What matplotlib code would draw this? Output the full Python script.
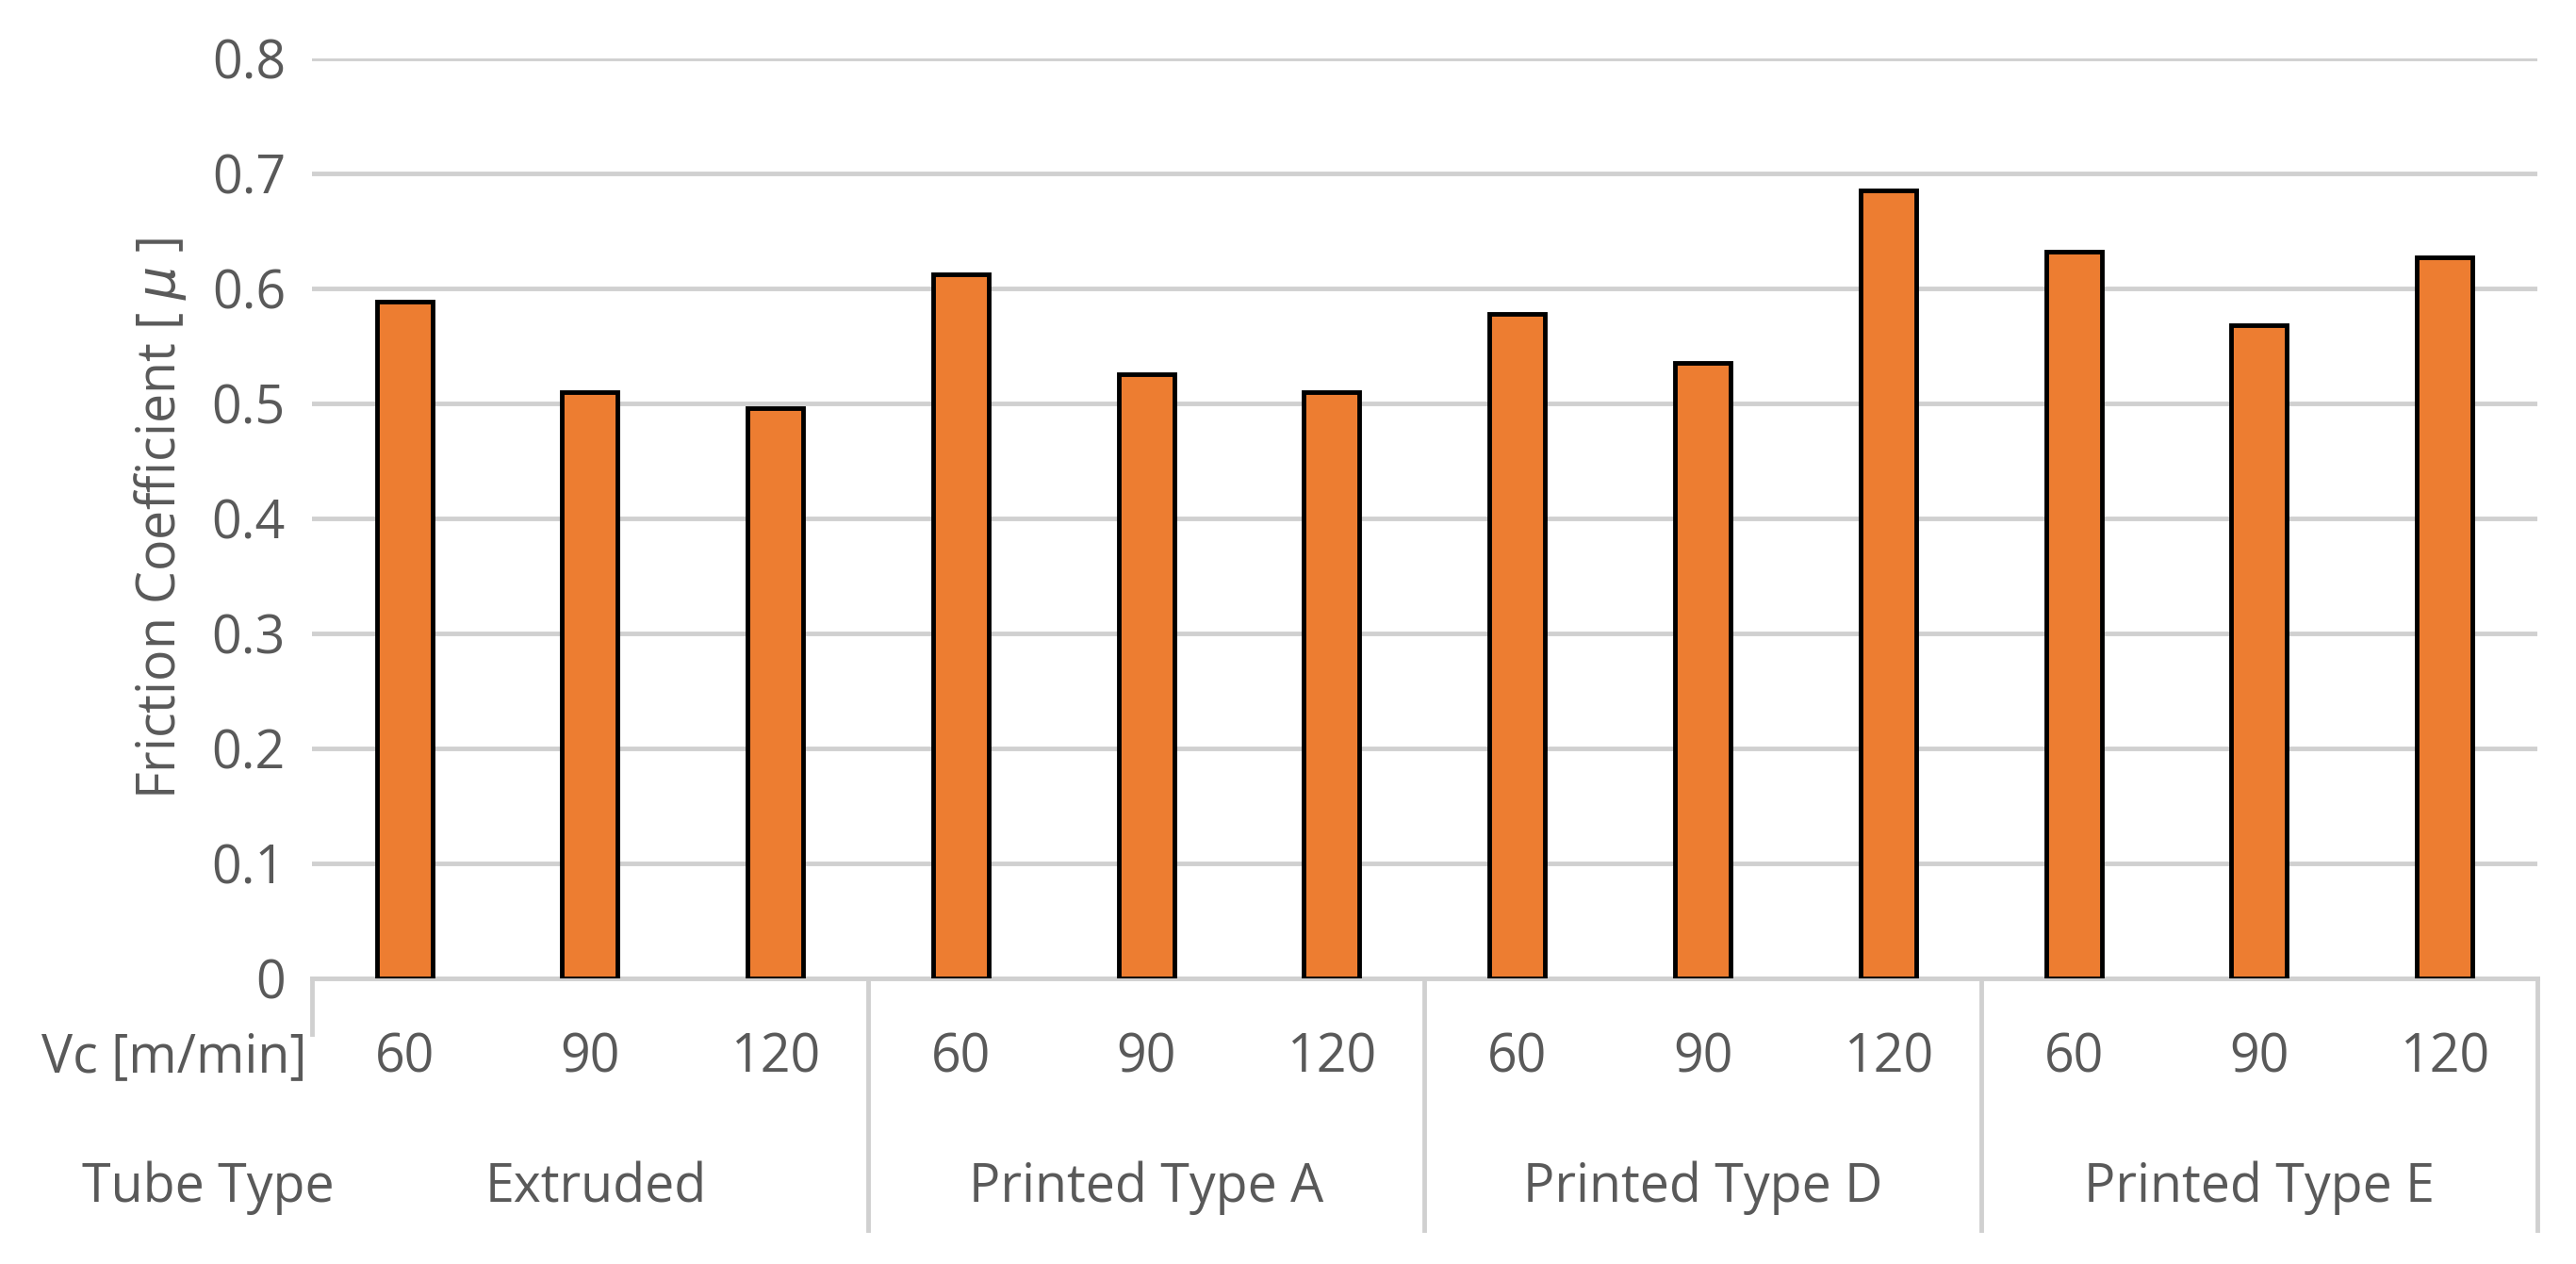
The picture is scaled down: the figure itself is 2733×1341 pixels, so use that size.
import matplotlib.pyplot as plt
import matplotlib.transforms as mtransforms

speeds = ['60', '90', '120'] * 4
tube_types = ['Extruded', 'Printed Type A', 'Printed Type D', 'Printed Type E']
friction = [0.588, 0.510, 0.496, 0.612, 0.525, 0.510, 0.578, 0.535, 0.685, 0.632, 0.568, 0.627]

plt.rcParams['font.family'] = ['Open Sans', 'DejaVu Sans']
grey = '#595959'
fs = 40

fig = plt.figure(figsize=(27.33, 13.41), dpi=100)
ax = fig.add_axes([0.121, 0.226, 0.864, 0.728])
x = list(range(len(friction)))
ax.bar(x, friction, width=0.3, color='#ed7d31', edgecolor='black', linewidth=3.5, zorder=3)
ax.set_xlim(-0.5, len(friction) - 0.5)
ax.set_ylim(0, 0.8)
ax.set_yticks([i / 10 for i in range(9)])
ax.set_yticklabels(['0'] + [f'{i / 10:.1f}' for i in range(1, 9)])
ax.yaxis.grid(True, color='#d0d0d0', linewidth=3.5, zorder=0)
ax.tick_params(axis='y', length=0, labelsize=fs, labelcolor=grey, pad=20)
ax.set_xticks([])
for s in ['top', 'right', 'left']:
    ax.spines[s].set_visible(False)
ax.spines['bottom'].set_color('#d0d0d0')
ax.spines['bottom'].set_linewidth(3.5)
ax.set_ylabel('Friction Coefficient [ $\\mu$ ]', fontsize=fs, color=grey, labelpad=18)

tr = mtransforms.blended_transform_factory(ax.transData, ax.transAxes)
for xi, s in zip(x, speeds):
    ax.text(xi, -0.087, s, transform=tr, ha='center', va='center', fontsize=fs, color=grey)
for gi, t in enumerate(tube_types):
    cx = gi * 3 + 1 if gi > 0 else 1.03
    ax.text(cx, -0.228, t, transform=tr, ha='center', va='center', fontsize=fs, color=grey)
ax.text(-1.24, -0.087, 'Vc [m/min]', transform=tr, ha='center', va='center', fontsize=fs, color=grey)
ax.text(-1.06, -0.228, 'Tube Type', transform=tr, ha='center', va='center', fontsize=fs, color=grey)

ax.plot([-0.5, -0.5], [0, -0.06], transform=tr, color='#d0d0d0', lw=3.5, clip_on=False)
for b in [2.5, 5.5, 8.5, 11.5]:
    ax.plot([b, b], [0, -0.274], transform=tr, color='#d0d0d0', lw=3.5, clip_on=False)

fig.savefig('out.png', dpi=100)
